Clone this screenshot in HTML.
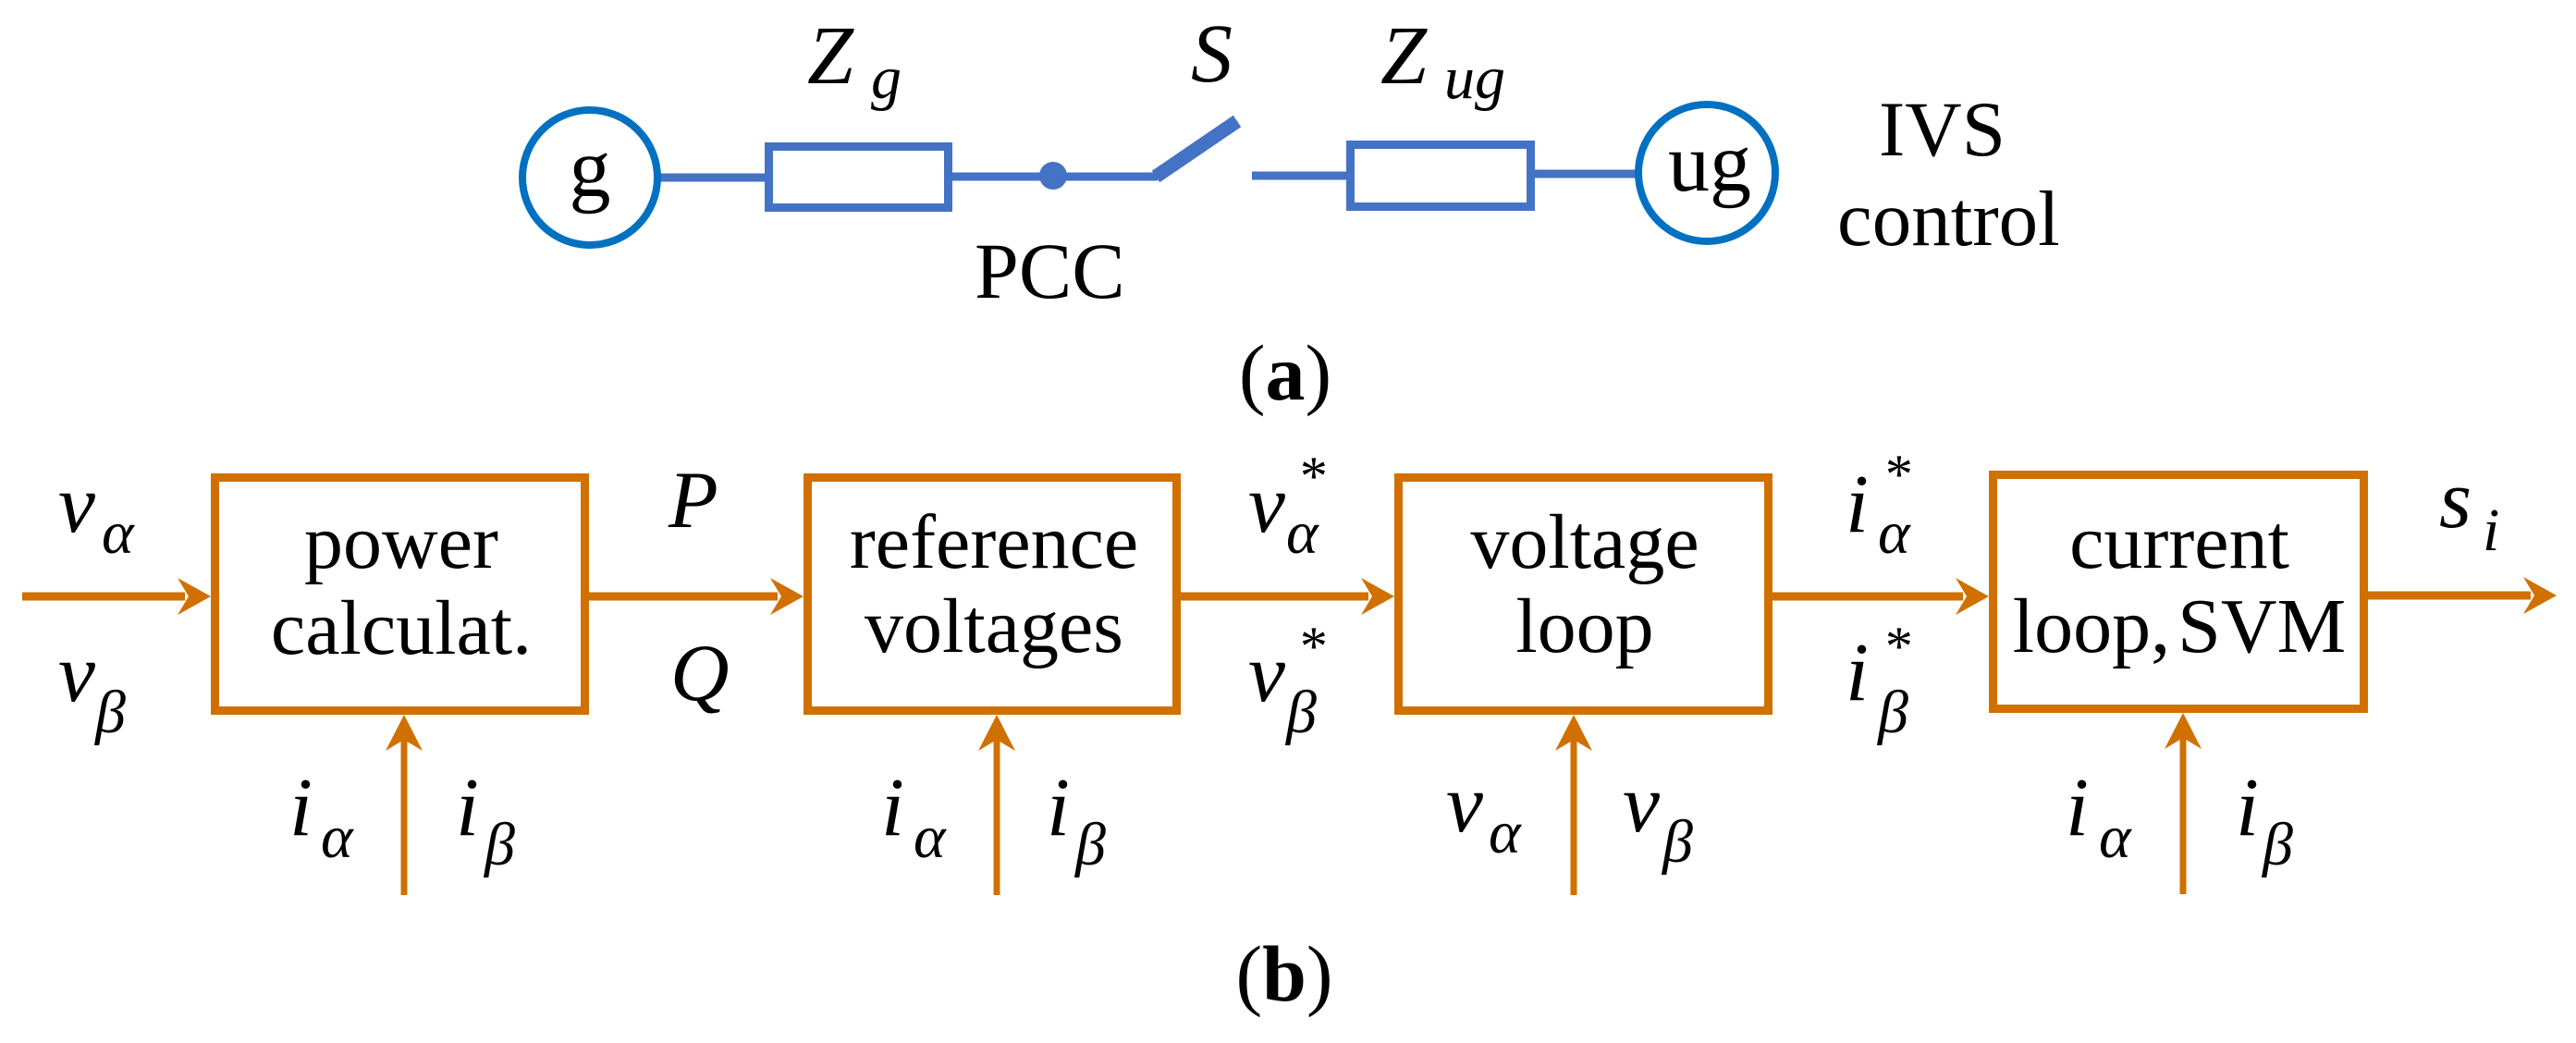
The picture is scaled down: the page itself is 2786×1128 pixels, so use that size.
<!DOCTYPE html>
<html><head><meta charset="utf-8"><style>
html,body{margin:0;padding:0;background:#fff;}
svg{display:block;}
svg text{font-family:"Liberation Serif","Times New Roman","Noto Serif CJK SC","DejaVu Serif",serif;fill:#000;}
.it{font-style:italic;}
</style></head><body>
<svg width="2786" height="1128" viewBox="0 0 2786 1128" xmlns="http://www.w3.org/2000/svg" font-family="Liberation Serif, Times New Roman, Noto Serif CJK SC, DejaVu Serif, serif">
<!-- Part (a) -->
<g stroke="#4472C4" stroke-width="9" fill="none">
<line x1="712" y1="192" x2="828" y2="192"/>
<rect x="831.5" y="158.5" width="194" height="66"/>
<line x1="1030" y1="191" x2="1252" y2="191"/>
<line x1="1354" y1="190" x2="1460" y2="190"/>
<rect x="1460.5" y="156.5" width="195" height="67"/>
<line x1="1660" y1="188" x2="1770" y2="188"/>
</g>
<line x1="1250" y1="191" x2="1338" y2="131" stroke="#4472C4" stroke-width="15"/>
<circle cx="1139" cy="190" r="15" fill="#4472C4"/>
<circle cx="638" cy="192" r="73" fill="none" stroke="#0070C0" stroke-width="8"/>
<circle cx="1846" cy="187" r="74" fill="none" stroke="#0070C0" stroke-width="8"/>
<text x="638" y="212" font-size="90" text-anchor="middle">g</text>
<text x="1849" y="206" font-size="90" text-anchor="middle">ug</text>
<text x="873" y="90" font-size="90" class="it" font-style="italic">Z</text>
<text x="942" y="106" font-size="66" class="it" font-style="italic">g</text>
<text x="1288" y="88" font-size="90" class="it" font-style="italic">S</text>
<text x="1493" y="90" font-size="90" class="it" font-style="italic">Z</text>
<text x="1562" y="106" font-size="66" class="it" font-style="italic">ug</text>
<text x="2032" y="168" font-size="85">IVS</text>
<text x="1987" y="265" font-size="85">control</text>
<text x="1054" y="322" font-size="86">PCC</text>
<text x="1390" y="432" font-size="86" text-anchor="middle">(<tspan font-weight="bold">a</tspan>)</text>

<!-- Part (b) -->
<g stroke="#D07000" stroke-width="9" fill="none">
<rect x="232.5" y="516.5" width="400" height="252"/>
<rect x="873.5" y="516.5" width="399" height="252"/>
<rect x="1512.5" y="516.5" width="400" height="252"/>
<rect x="2155.5" y="513.5" width="401" height="253"/>
<line x1="24" y1="645" x2="200" y2="645"/>
<line x1="637" y1="645" x2="841" y2="645"/>
<line x1="1277" y1="645" x2="1480" y2="645"/>
<line x1="1917" y1="645" x2="2123" y2="645"/>
<line x1="2561" y1="644" x2="2737" y2="644"/>
</g>
<g stroke="#D07000" stroke-width="7">
<line x1="437" y1="968" x2="437" y2="800"/>
<line x1="1078" y1="968" x2="1078" y2="800"/>
<line x1="1702" y1="968" x2="1702" y2="800"/>
<line x1="2361" y1="967" x2="2361" y2="798"/>
</g>
<g fill="#D07000">
<polygon points="228,645 192,625 204,645 192,665"/>
<polygon points="869,645 833,625 845,645 833,665"/>
<polygon points="1508,645 1472,625 1484,645 1472,665"/>
<polygon points="2151,645 2115,625 2127,645 2115,665"/>
<polygon points="2765,644 2729,624 2741,644 2729,664"/>
<polygon points="437,773 417,812 437,800 457,812"/>
<polygon points="1078,773 1058,812 1078,800 1098,812"/>
<polygon points="1702,773 1682,812 1702,800 1722,812"/>
<polygon points="2361,771 2341,810 2361,798 2381,810"/>
</g>
<g font-size="84" text-anchor="middle">
<text x="434" y="614">power</text>
<text x="434" y="707">calculat.</text>
<text x="1075" y="614">reference</text>
<text x="1075" y="705">voltages</text>
<text x="1714" y="614">voltage</text>
<text x="1714" y="705">loop</text>
<text x="2357" y="614">current</text>
<text x="2357" y="705">loop,<tspan dx="8">SVM</tspan></text>
</g>
<g class="it" font-style="italic">
<text x="63" y="575" font-size="90">v</text><text x="110" y="598" font-size="66">α</text>
<text x="63" y="758" font-size="90">v</text><text x="103" y="792" font-size="66">β</text>
<text x="723" y="570" font-size="88">P</text>
<text x="725" y="757" font-size="88">Q</text>
<text x="1350" y="575" font-size="90">v</text><text x="1391" y="598" font-size="66">α</text><text x="1403" y="535" font-size="60">*</text>
<text x="1350" y="758" font-size="90">v</text><text x="1391" y="792" font-size="66">β</text><text x="1403" y="719" font-size="60">*</text>
<text x="1996" y="575" font-size="90">i</text><text x="2031" y="598" font-size="66">α</text><text x="2036" y="533" font-size="60">*</text>
<text x="1996" y="757" font-size="90">i</text><text x="2031" y="792" font-size="66">β</text><text x="2036" y="719" font-size="60">*</text>
<text x="2638" y="570" font-size="90">s</text><text x="2685" y="595" font-size="66">i</text>
<text x="313" y="903" font-size="90">i</text><text x="347" y="927" font-size="66">α</text>
<text x="493" y="903" font-size="90">i</text><text x="524" y="935" font-size="66">β</text>
<text x="953" y="903" font-size="90">i</text><text x="988" y="927" font-size="66">α</text>
<text x="1132" y="903" font-size="90">i</text><text x="1163" y="935" font-size="66">β</text>
<text x="1564" y="899" font-size="90">v</text><text x="1610" y="922" font-size="66">α</text>
<text x="1755" y="899" font-size="90">v</text><text x="1798" y="932" font-size="66">β</text>
<text x="2234" y="903" font-size="90">i</text><text x="2270" y="927" font-size="66">α</text>
<text x="2418" y="903" font-size="90">i</text><text x="2447" y="935" font-size="66">β</text>
</g>
<text x="1389" y="1082" font-size="86" text-anchor="middle">(<tspan font-weight="bold">b</tspan>)</text>
</svg>
</body></html>
